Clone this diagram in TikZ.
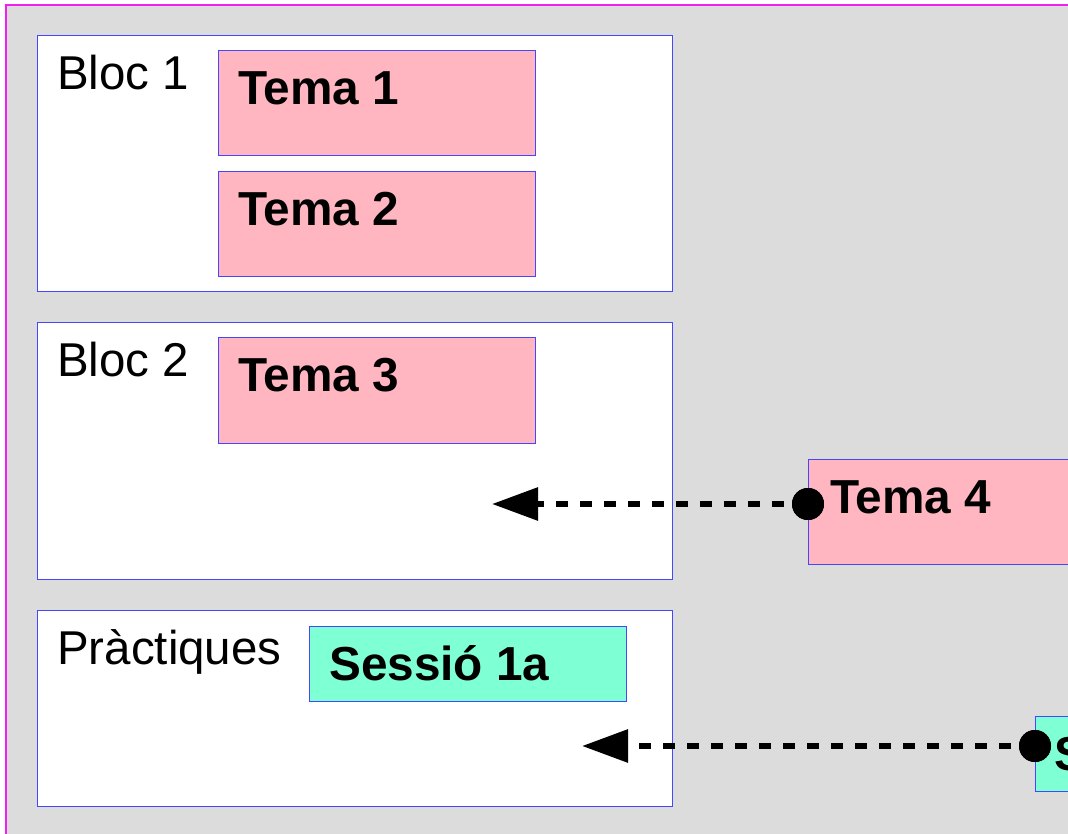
\documentclass[tikz,border=0pt]{standalone}
\usepackage{fontspec}
\setmainfont{Liberation Sans}
\usetikzlibrary{arrows.meta,calc}
\definecolor{bg}{HTML}{DCDCDC}
\definecolor{edge}{HTML}{4646FF}
\definecolor{frame}{HTML}{F020F0}
\definecolor{pinkfill}{HTML}{FFB6C1}
\definecolor{aqua}{HTML}{7FFFD4}
\begin{document}
\begin{tikzpicture}[x=0.75pt,y=-0.75pt,
  box/.style={draw=edge,line width=0.75pt,inner sep=0pt,outer sep=0pt,anchor=north west},
  bloc/.style={box,fill=white,minimum width=476.25pt},
  tema/.style={box,fill=pinkfill,minimum width=237.75pt,minimum height=78.75pt},
  sessio/.style={box,fill=aqua,minimum width=237.75pt,minimum height=56.25pt},
  lbl/.style={anchor=base west,inner sep=0pt,font=\fontsize{35.6}{42}\selectfont},
  blbl/.style={lbl,font=\fontsize{35.8}{42}\selectfont\bfseries},
  dot/.style={circle,fill=black,minimum size=24pt,inner sep=0pt},
  dasharrow/.style={line width=4.5pt,dash pattern=on 9pt off 9pt,-{Triangle[length=34.5pt,width=24pt]}}]
\useasboundingbox (0,0) rectangle (1068,834);
\clip (0,0) rectangle (1068,834);
\fill[white] (0,0) rectangle (1068,834);
\fill[bg] (6,5) rectangle (1080,850);
\draw[frame,line width=1.5pt] (6,850) -- (6,5) -- (1080,5);
% Bloc 1
\node[bloc,minimum height=192pt] (b1) at (37,36) {};
\node[lbl] (b1l) at (57,90) {Bloc 1};
\node[tema] (t1) at (218,51) {};
\node[blbl] (t1l) at (238,105) {Tema 1};
\node[tema] (t2) at (218,172) {};
\node[blbl] (t2l) at (238,226) {Tema 2};
% Bloc 2
\node[bloc,minimum height=192pt] (b2) at (37,323) {};
\node[lbl] (b2l) at (57,377) {Bloc 2};
\node[tema] (t3) at (218,338) {};
\node[blbl] (t3l) at (238,392) {Tema 3};
% Practiques
\node[bloc,minimum height=147pt] (pr) at (37,610) {};
\node[lbl] (prl) at (57,664) {Pràctiques};
\node[sessio] (s1) at (309,626) {};
\node[blbl] (s1l) at (329,680) {Sessió 1a};
% Tema 4
\node[tema,minimum width=240pt] (t4) at (808,459) {};
\node[blbl] (t4l) at (830,513) {Tema 4};
% Sessio off-canvas
\node[sessio,minimum width=120pt] (s2) at (1035,716) {};
\node[blbl] (s2l) at (1054,770) {S};
% arrows
\coordinate (a1) at (492,504);
\coordinate (a2) at (582,746);
\node[dot] (d1) at ($(t4.north west)+(0,45)$) {};
\node[dot] (d2) at ($(s2.north west)+(0,30)$) {};
\draw[dasharrow] (d1.center) -- (a1);
\draw[dasharrow] (d2.center) -- (a2);
\node[dot] at (d1) {};
\node[dot] at (d2) {};
\end{tikzpicture}
\end{document}
